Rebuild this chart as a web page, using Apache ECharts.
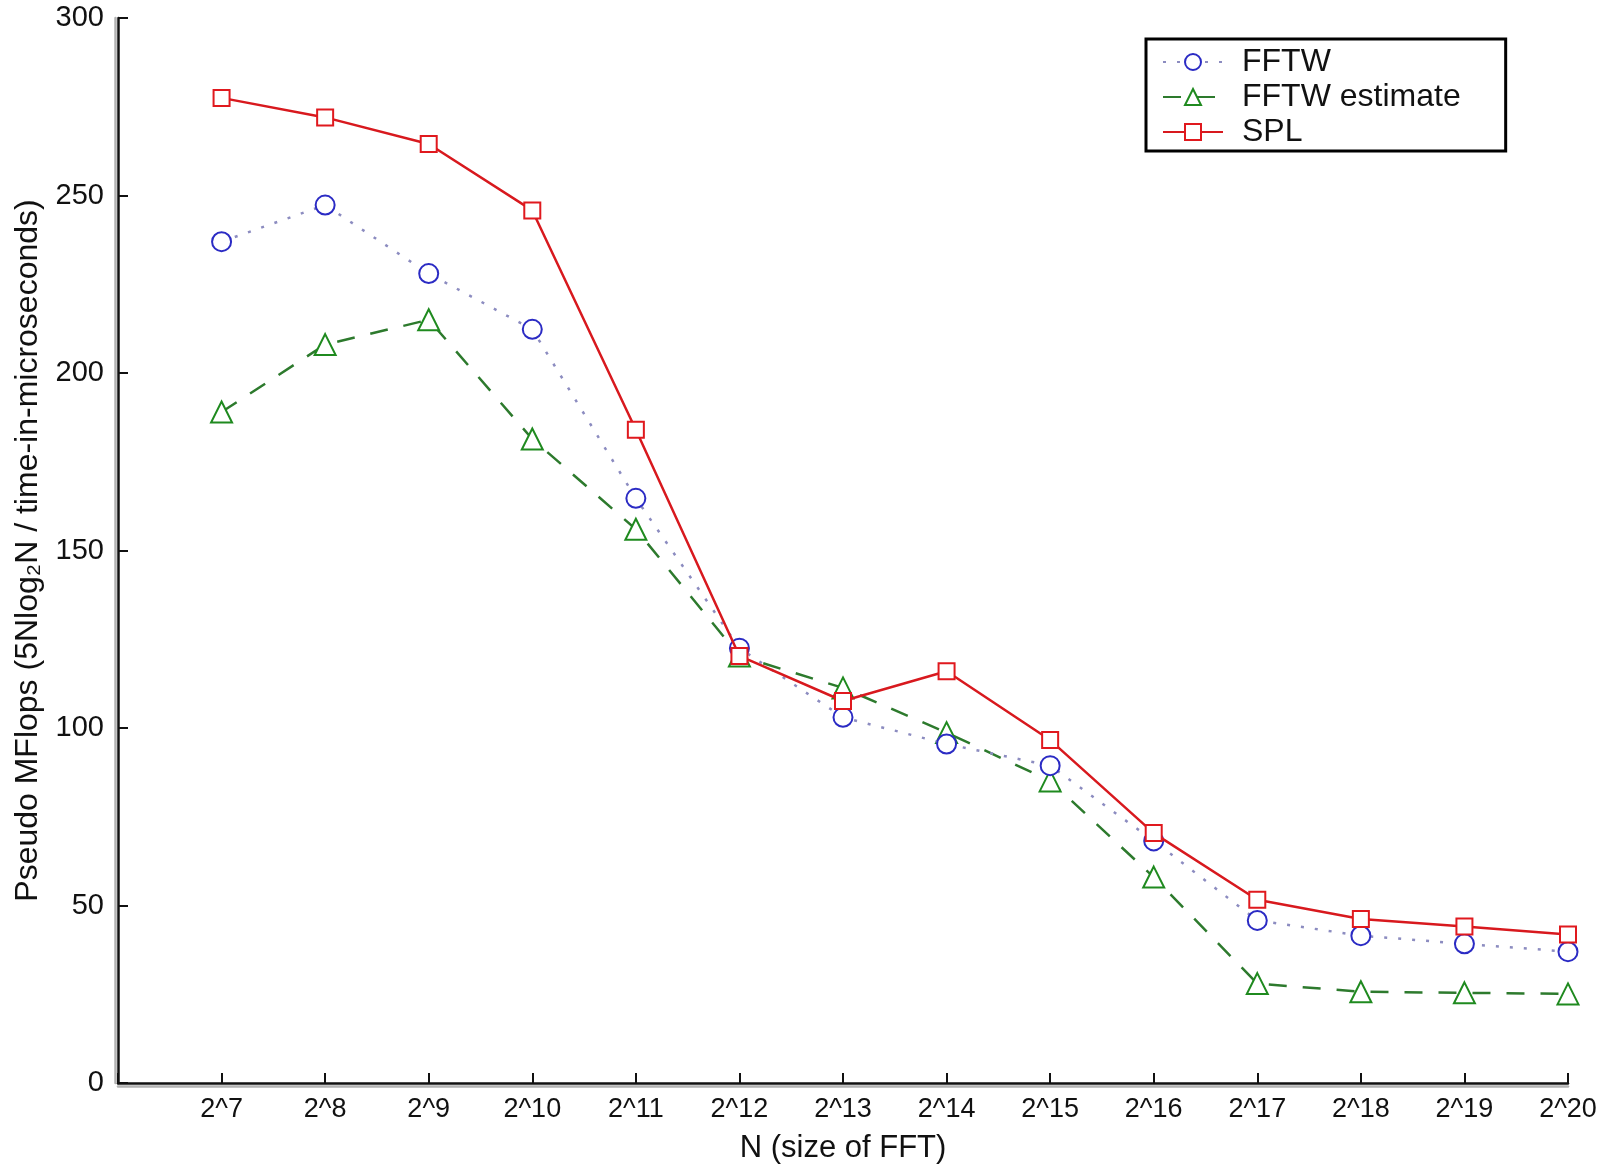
<!DOCTYPE html>
<html>
<head>
<meta charset="utf-8">
<script src="https://cdn.jsdelivr.net/npm/echarts@6/dist/echarts.min.js"></script>
<style>
html,body{margin:0;padding:0;background:#fff;}
#chart{width:1610px;height:1169px;}
</style>
</head>
<body>
<div id="chart"></div>
<script>
// ---- data ----
const exponents = [7, 8, 9, 10, 11, 12, 13, 14, 15, 16, 17, 18, 19, 20];
const tickLabels = ['2^7','2^8','2^9','2^10','2^11','2^12','2^13','2^14','2^15','2^16','2^17','2^18','2^19','2^20'];
const seriesNames = ['FFTW', 'FFTW estimate', 'SPL'];
const fftw = [237, 247.3, 228, 212.3, 164.7, 122.5, 103, 95.5, 89.4, 68.2, 45.8, 41.5, 39.2, 37];
const fftwEstimate = [189, 208, 215, 181.4, 156, 120.3, 111.3, 98.7, 85.1, 58, 28, 25.7, 25.4, 25.1];
const spl = [277.5, 272, 264.5, 245.8, 184, 120.3, 107.6, 116, 96.6, 70.4, 51.6, 46.2, 44.1, 41.8];
const yTicks = [0, 50, 100, 150, 200, 250, 300];

const pairs = vals => exponents.map((e, i) => [e, vals[i]]);
const FONT = '"Liberation Sans", Arial, sans-serif';

const chart = echarts.init(document.getElementById('chart'), null, {renderer: 'canvas'});
chart.setOption({
  animation: false,
  backgroundColor: '#ffffff',
  textStyle: {fontFamily: FONT, color: '#111'},
  grid: {left: 118, right: 42, top: 18, bottom: 82, containLabel: false},
  legend: {
    data: seriesNames,
    orient: 'vertical',
    left: 1146,
    top: 39,
    padding: [7, 45, 3, 16],
    itemWidth: 60,
    itemHeight: 20,
    itemGap: 3,
    borderColor: '#000',
    borderWidth: 3,
    backgroundColor: '#fff',
    textStyle: {fontFamily: FONT, fontSize: 32, color: '#111', padding: [0, 0, 0, 14], lineHeight: 32}
  },
  xAxis: {
    type: 'value',
    min: 6,
    max: 20,
    interval: 1,
    name: 'N (size of FFT)',
    nameLocation: 'middle',
    nameGap: 50,
    nameTextStyle: {fontFamily: FONT, fontSize: 31, color: '#111'},
    axisLine: {show: true, onZero: false, lineStyle: {color: '#111', width: 2.5, shadowColor: 'rgba(0,0,0,0.3)', shadowOffsetY: 3}},
    axisTick: {show: true, inside: true, length: 10, lineStyle: {color: '#111', width: 2}},
    axisLabel: {
      fontFamily: FONT, fontSize: 27, color: '#111', margin: 13,
      formatter: v => { const i = exponents.indexOf(v); return i >= 0 ? tickLabels[i] : ''; }
    },
    splitLine: {show: false}
  },
  yAxis: {
    type: 'value',
    min: yTicks[0],
    max: yTicks[yTicks.length - 1],
    interval: 50,
    name: 'Pseudo MFlops (5Nlog\u2082N / time-in-microseconds)',
    nameLocation: 'middle',
    nameRotate: 90,
    nameGap: 74,
    nameTextStyle: {fontFamily: FONT, fontSize: 32, color: '#111'},
    axisLine: {show: true, lineStyle: {color: '#111', width: 2.5, shadowColor: 'rgba(0,0,0,0.3)', shadowOffsetX: -3}},
    axisTick: {show: true, inside: true, length: 10, lineStyle: {color: '#111', width: 2}},
    axisLabel: {fontFamily: FONT, fontSize: 29, color: '#111', margin: 14},
    splitLine: {show: false}
  },
  series: [
    {
      name: seriesNames[0],
      type: 'line',
      data: pairs(fftw),
      symbol: 'emptyCircle',
      symbolSize: 19,
      itemStyle: {color: '#2b2bc4', borderWidth: 2.5},
      lineStyle: {color: '#8c8cc0', width: 2.5, type: [3, 11]},
      z: 3
    },
    {
      name: seriesNames[1],
      type: 'line',
      data: pairs(fftwEstimate),
      symbol: 'emptyTriangle',
      symbolSize: 21,
      itemStyle: {color: '#1f8a1f', borderWidth: 2.5},
      lineStyle: {color: '#2d7a2d', width: 2.5, type: [18, 16]},
      z: 2
    },
    {
      name: seriesNames[2],
      type: 'line',
      data: pairs(spl),
      symbol: 'emptyRect',
      symbolSize: 16,
      itemStyle: {color: '#e0191e', borderWidth: 2.5},
      lineStyle: {color: '#d8191e', width: 2.5, type: 'solid'},
      z: 4
    }
  ]
});
</script>
</body>
</html>
